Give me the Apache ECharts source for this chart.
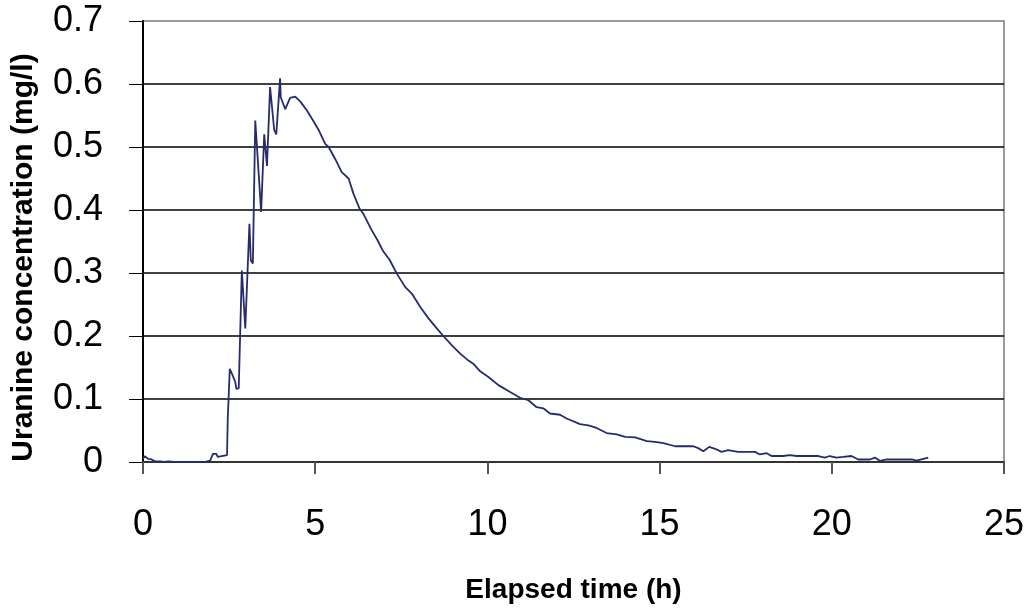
<!DOCTYPE html>
<html>
<head>
<meta charset="utf-8">
<title>Uranine breakthrough curve</title>
<script src="https://cdn.jsdelivr.net/npm/echarts@6/dist/echarts.min.js"></script>
<style>
  html, body { margin: 0; padding: 0; background: #fff; }
  #chart { width: 1033px; height: 609px; }
</style>
</head>
<body>
<div id="chart"></div>
<script>
// Elapsed time since injection (h)
const elapsedHours = [
  0.00, 0.05, 0.10, 0.15, 0.20, 0.25, 0.35, 0.50, 0.60, 0.75,
  0.90, 1.00, 1.03, 1.10, 1.25, 1.27, 1.35, 1.50, 1.52, 1.60,
  1.70, 1.72, 1.80, 1.86, 1.90, 1.95, 2.00, 2.03, 2.13, 2.17,
  2.19, 2.44, 2.46, 2.50, 2.51, 2.52, 2.60, 2.68, 2.71, 2.78,
  2.87, 2.97, 3.02, 3.09, 3.13, 3.19, 3.23, 3.26, 3.43, 3.52,
  3.60, 3.65, 3.69, 3.81, 3.87, 3.98, 4.00, 4.13, 4.27, 4.42,
  4.57, 4.76, 4.96, 5.10, 5.29, 5.39, 5.58, 5.77, 5.97, 6.11,
  6.29, 6.40, 6.62, 6.81, 6.98, 7.16, 7.37, 7.61, 7.81, 8.05,
  8.29, 8.53, 8.72, 8.97, 9.21, 9.45, 9.59, 9.79, 10.03, 10.32,
  10.66, 10.95, 11.19, 11.43, 11.63, 11.82, 12.11, 12.30, 12.69, 12.93,
  13.17, 13.46, 13.76, 14.00, 14.29, 14.63, 14.87, 15.11, 15.45, 15.98,
  16.12, 16.27, 16.44, 16.61, 16.80, 16.99, 17.28, 17.77, 17.91, 18.11,
  18.25, 18.59, 18.78, 18.98, 19.61, 19.80, 19.94, 20.14, 20.33, 20.57,
  20.77, 21.11, 21.25, 21.40, 21.59, 22.32, 22.46, 22.80
];

// Uranine concentration (mg/l)
const uranineConc = [
  0.005, 0.009, 0.007, 0.005, 0.002, 0.004, 0.001, 0.001, 0.000, 0.001,
  0.000, 0.000, 0.002, 0.000, 0.000, 0.002, 0.000, 0.000, 0.002, 0.000,
  0.000, 0.002, 0.000, 0.001, 0.000, 0.002, 0.000, 0.013, 0.013, 0.008,
  0.011, 0.011, 0.067, 0.068, 0.065, 0.148, 0.138, 0.127, 0.116, 0.117,
  0.304, 0.212, 0.214, 0.378, 0.320, 0.315, 0.318, 0.542, 0.397, 0.520,
  0.470, 0.470, 0.595, 0.527, 0.520, 0.609, 0.579, 0.560, 0.578, 0.580,
  0.572, 0.558, 0.540, 0.527, 0.505, 0.500, 0.481, 0.460, 0.450, 0.426,
  0.402, 0.394, 0.370, 0.352, 0.334, 0.321, 0.299, 0.278, 0.267, 0.246,
  0.228, 0.212, 0.200, 0.185, 0.172, 0.161, 0.156, 0.144, 0.135, 0.122,
  0.111, 0.102, 0.098, 0.087, 0.085, 0.077, 0.075, 0.069, 0.060, 0.058,
  0.054, 0.046, 0.044, 0.040, 0.039, 0.033, 0.032, 0.030, 0.025, 0.025,
  0.022, 0.017, 0.024, 0.021, 0.016, 0.019, 0.016, 0.016, 0.012, 0.014,
  0.0095, 0.0095, 0.011, 0.0095, 0.0095, 0.007, 0.0095, 0.007, 0.008, 0.0095,
  0.004, 0.004, 0.007, 0.0016, 0.004, 0.004, 0.002, 0.007
];

const xTicks = [0, 5, 10, 15, 20, 25];
const yTicks = [0, 0.1, 0.2, 0.3, 0.4, 0.5, 0.6, 0.7];

const FONT = '"Liberation Sans", Arial, sans-serif';

const seriesData = elapsedHours.map((t, i) => [t, uranineConc[i]]);

// Horizontal gridlines are black; the topmost one doubles as the gray plot frame
const gridColors = yTicks.map((v, i) => (i === yTicks.length - 1 ? '#9a9a9a' : '#000000'));

const chart = echarts.init(document.getElementById('chart'), null, { renderer: 'canvas' });

chart.setOption({
  animation: false,
  backgroundColor: '#ffffff',
  grid: {
    left: 143, right: 29, top: 21, bottom: 147,
    show: true,
    borderColor: '#9a9a9a',
    borderWidth: 2,
    backgroundColor: 'transparent'
  },
  xAxis: {
    type: 'value',
    min: xTicks[0],
    max: xTicks[xTicks.length - 1],
    interval: 5,
    name: 'Elapsed time (h)',
    nameLocation: 'middle',
    nameGap: 114,
    nameTextStyle: { fontFamily: FONT, fontSize: 28, fontWeight: 'bold', color: '#000' },
    axisLine: { show: true, onZero: false, lineStyle: { color: '#333', width: 2 } },
    axisTick: { show: true, inside: false, length: 12, lineStyle: { color: '#555', width: 2 } },
    axisLabel: {
      fontFamily: FONT, fontSize: 36, color: '#000', margin: 45,
      formatter: v => String(v)
    },
    splitLine: { show: false }
  },
  yAxis: {
    type: 'value',
    min: yTicks[0],
    max: yTicks[yTicks.length - 1],
    interval: 0.1,
    name: 'Uranine concentration (mg/l)',
    nameLocation: 'middle',
    nameRotate: 90,
    nameGap: 104,
    nameTextStyle: {
      fontFamily: FONT, fontSize: 30, fontWeight: 'bold', color: '#000',
      padding: [0, 32, 0, 0]
    },
    axisLine: { show: true, lineStyle: { color: '#000', width: 2 } },
    axisTick: { show: true, inside: false, length: 14, lineStyle: { color: '#000', width: 1 } },
    axisLabel: {
      fontFamily: FONT, fontSize: 36, color: '#000', margin: 40,
      formatter: v => String(Math.round(v * 10) / 10)
    },
    splitLine: { show: true, lineStyle: { color: gridColors, width: 1.5 } }
  },
  series: [{
    type: 'line',
    data: seriesData,
    showSymbol: false,
    symbol: 'none',
    smooth: false,
    lineStyle: { color: '#262b6e', width: 1.8 },
    z: 5
  }]
});
</script>
</body>
</html>
